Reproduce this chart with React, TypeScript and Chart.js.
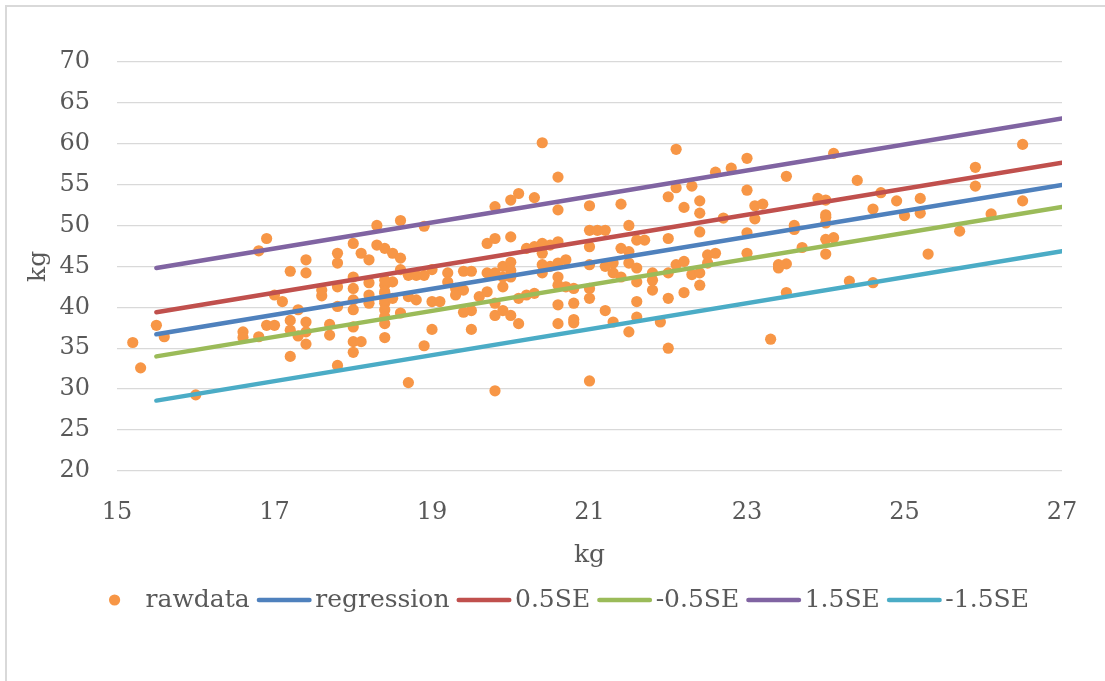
import { useEffect, useRef } from 'react';
import { Chart, registerables } from 'chart.js';

Chart.register(...registerables);

// Raw measurements (x in kg, y in kg)
const rawX = [
  15.2, 15.3, 15.5, 15.6, 16.0, 16.6, 16.6, 16.8, 16.9, 16.8, 17.0, 17.1, 16.9, 17.0, 17.2, 17.2, 17.2, 17.2,
  17.3, 17.3, 17.4, 17.4, 17.4, 17.4, 17.4, 17.6, 17.6, 17.7, 17.7, 17.8, 17.8, 17.8, 17.8, 17.8, 18.0, 18.0,
  18.0, 18.0, 18.0, 18.0, 18.0, 18.1, 18.0, 18.1, 18.2, 18.2, 18.2, 18.2, 18.3, 18.3, 18.4, 18.4, 18.4, 18.4,
  18.4, 18.4, 18.4, 18.5, 18.5, 18.6, 18.6, 18.6,
  18.6, 18.9, 18.4, 18.4, 18.4, 18.5, 18.4, 18.7, 18.8, 18.9, 19.0, 18.7, 18.8, 19.0, 19.1, 19.0, 18.7, 18.9,
  19.2, 19.2, 19.3, 19.3, 19.4, 19.4, 19.5, 19.5, 19.4, 19.5, 19.6, 19.7, 19.7, 19.8, 19.8, 19.7, 19.8, 19.8,
  19.9, 19.9, 20.0, 20.0, 20.0, 20.1, 19.9, 20.0, 20.0, 19.9, 20.0, 19.8, 20.1, 20.2, 20.3, 20.1, 19.8, 20.2,
  20.3, 20.4, 20.5, 20.6, 20.3, 20.4, 20.4, 20.4, 20.4, 20.5, 20.6, 20.7, 20.6, 20.6, 20.7, 20.6, 20.8, 20.6,
  20.8, 20.8, 20.6, 20.6, 20.8, 21.0, 21.0, 21.1, 21.2, 21.0, 21.0, 21.0, 21.0, 21.0, 21.2, 21.2, 21.3, 21.3,
  21.4, 21.3, 21.4, 21.4, 21.5, 21.5, 21.5, 21.5, 21.6, 21.7, 21.6, 21.6, 21.6, 21.6, 21.8, 21.8, 21.8, 22.0,
  22.0, 22.0, 22.0, 21.9, 22.0, 22.1, 22.1,
  22.3, 22.2, 22.4, 22.4, 22.4, 22.1, 22.2, 22.2, 22.3, 22.4, 22.4, 22.5, 22.5, 22.6, 22.6, 22.8, 23.0, 22.7,
  23.0, 23.0, 23.0, 23.1, 23.2, 23.1, 23.3, 23.4, 23.4, 23.5, 23.5, 23.5, 23.6, 23.6, 23.7, 23.9, 24.0, 24.0,
  24.0, 24.0, 24.0, 24.1, 24.0, 24.1, 24.3, 24.4, 24.6, 24.6, 24.7, 24.9, 25.0, 25.2, 25.2, 25.3, 25.7, 25.9,
  25.9, 26.1, 26.5, 26.5,
];
const rawY = [
  35.7, 32.6, 37.8, 36.4, 29.3, 37.0, 36.3, 46.9, 48.4, 36.4, 41.5, 40.7, 37.8, 37.8, 44.4, 34.0, 38.4, 37.2,
  39.7, 36.5, 45.8, 44.2, 38.2, 37.0, 35.5, 41.4, 42.1, 37.9, 36.6, 46.6, 45.4, 42.5, 40.1, 32.9, 47.8, 43.7,
  42.3, 40.9, 39.7, 37.6, 35.8, 35.8, 34.5, 46.6, 45.8, 43.0, 41.5, 40.5, 50.0, 47.6, 47.2, 42.7, 41.7, 40.5,
  39.7, 38.0, 36.3, 46.6, 43.1, 50.6, 44.6, 39.3,
  46.0, 49.9, 43.3, 41.9, 40.9, 41.1, 38.85, 43.9, 43.9, 43.9, 44.6, 41.3, 40.9, 40.7, 40.7, 37.3, 30.8, 35.3,
  44.2, 43.1, 42.3, 41.5, 44.4, 42.1, 44.4, 39.6, 39.4, 37.3, 41.3, 44.2, 47.8, 48.4, 52.3, 41.9, 40.5, 39.0,
  39.6, 42.5, 39.0, 48.6, 53.1, 53.9, 45.0, 45.5, 44.5, 43.7, 43.7, 44.2, 41.1, 41.5, 41.7, 38.0, 29.8, 47.2,
  47.4, 47.8, 47.6, 48.0, 53.4, 60.1, 46.6, 45.2, 44.2, 45.0, 45.4, 45.8, 43.7, 42.7, 42.5, 40.3, 40.5, 38.0,
  38.5, 38.1, 55.9, 51.9, 42.3, 52.4, 49.4, 49.4, 49.4, 47.4, 45.2, 42.3, 41.1, 31.0, 39.6, 45.0, 45.4, 44.2,
  43.7, 38.2, 52.6, 47.2, 46.8, 45.4, 50.0, 37.0, 48.2, 48.2, 44.8, 43.1, 40.7, 38.8, 44.2, 43.3, 42.1, 53.5,
  48.4, 44.2, 41.1, 38.2, 35.0, 59.3, 54.6,
  54.8, 52.2, 53.0, 51.5, 49.2, 45.2, 45.6, 41.8, 44.0, 44.2, 42.7, 46.4, 45.4, 46.6, 56.5, 57.0, 58.2, 50.9,
  54.3, 49.1, 46.6, 52.4, 52.6, 50.8, 36.1, 45.2, 44.8, 45.3, 41.8, 56.0, 50.0, 49.5, 47.3, 53.3, 53.1, 51.3,
  50.3, 48.3, 46.5, 48.5, 51.0, 58.8, 43.2, 55.5, 52.0, 43.0, 54.0, 53.0, 51.2, 53.3, 51.5, 46.5, 49.3, 57.1,
  54.8, 51.4, 59.9, 53.0,
];

// Fitted lines: start and end x, with the y at each end
const lineX = [15.5, 27];
const regressionY = [36.7, 54.95];
const plus05Y = [39.4, 57.65];
const minus05Y = [34.0, 52.25];
const plus15Y = [44.8, 63.05];
const minus15Y = [28.6, 46.85];

const xTicks = [15, 17, 19, 21, 23, 25, 27];
const yMin = 20;
const yMax = 70;
const yStep = 5;

const seriesNames = ['rawdata', 'regression', '0.5SE', '-0.5SE', '1.5SE', '-1.5SE'];
const seriesColors = ['#F79646', '#4F81BD', '#C0504D', '#9BBB59', '#8064A2', '#4BACC6'];

const TEXT = '#595959';
const FONT = '"DejaVu Serif", "Liberation Serif", serif';

const toPoints = (xs: number[], ys: number[]) => xs.map((x, i) => ({ x, y: ys[i] }));

// Frame around the chart (top and left edges)
const framePlugin = {
  id: 'frame',
  beforeDraw(chart: any) {
    const ctx = chart.ctx;
    ctx.save();
    ctx.fillStyle = '#ffffff';
    ctx.fillRect(0, 0, chart.width, chart.height);
    ctx.strokeStyle = '#d9d9d9';
    ctx.lineWidth = 2;
    ctx.strokeRect(6, 6, chart.width + 10, chart.height + 10);
    ctx.restore();
  },
};

// Legend row under the x axis title
const legendPlugin = {
  id: 'rowLegend',
  afterDraw(chart: any) {
    const ctx = chart.ctx;
    ctx.save();
    ctx.font = `25px ${FONT}`;
    ctx.textBaseline = 'middle';
    ctx.textAlign = 'left';
    const markW = 55;
    const gapIn = 3.5;
    const gapOut = 7;
    const y = 600;
    const widths = seriesNames.map((n) => ctx.measureText(n).width);
    let total = 0;
    widths.forEach((w, i) => {
      total += markW + gapIn + w + (i < widths.length - 1 ? gapOut : 0);
    });
    let x = 558 - total / 2;
    seriesNames.forEach((name, i) => {
      const color = seriesColors[i];
      if (i === 0) {
        ctx.fillStyle = color;
        ctx.beginPath();
        ctx.arc(x + markW / 2, y, 5.6, 0, Math.PI * 2);
        ctx.fill();
      } else {
        ctx.strokeStyle = color;
        ctx.lineWidth = 4.5;
        ctx.lineCap = 'round';
        ctx.beginPath();
        ctx.moveTo(x + 2.25, y);
        ctx.lineTo(x + markW - 2.25, y);
        ctx.stroke();
      }
      x += markW + gapIn;
      ctx.fillStyle = TEXT;
      ctx.fillText(name, x, y);
      x += widths[i] + gapOut;
    });
    ctx.restore();
  },
};

export default function App() {
  const canvasRef = useRef<HTMLCanvasElement | null>(null);

  useEffect(() => {
    if (!canvasRef.current) return;
    const lineSets = [regressionY, plus05Y, minus05Y, plus15Y, minus15Y].map((ys, i) => ({
      type: 'line' as const,
      label: seriesNames[i + 1],
      data: toPoints(lineX, ys),
      borderColor: seriesColors[i + 1],
      backgroundColor: seriesColors[i + 1],
      borderWidth: 4.5,
      borderCapStyle: 'round' as const,
      pointRadius: 0,
      showLine: true,
      fill: false,
      order: 1,
    }));

    const chart = new Chart(canvasRef.current, {
      type: 'scatter',
      data: {
        datasets: [
          {
            label: seriesNames[0],
            data: toPoints(rawX, rawY),
            backgroundColor: seriesColors[0],
            borderColor: seriesColors[0],
            borderWidth: 0,
            pointRadius: 5.6,
            order: 10,
          },
          ...lineSets,
        ] as any,
      },
      options: {
        animation: false,
        responsive: false,
        devicePixelRatio: 1,
        layout: { padding: { left: 23, top: 61.7, right: 43, bottom: 110 } },
        plugins: {
          legend: { display: false },
          tooltip: { enabled: false },
        },
        scales: {
          x: {
            type: 'linear',
            min: xTicks[0],
            max: xTicks[xTicks.length - 1],
            afterBuildTicks: (scale: any) => {
              scale.ticks = xTicks.map((v) => ({ value: v }));
            },
            afterFit: (scale: any) => {
              scale.height = 100;
            },
            grid: { display: false, drawTicks: false },
            border: { display: false },
            ticks: { color: TEXT, font: { family: FONT, size: 24 }, padding: 27, maxRotation: 0 },
            title: {
              display: true,
              text: 'kg',
              color: TEXT,
              font: { family: FONT, size: 25 },
              padding: { top: 0, bottom: 1 },
            },
          },
          y: {
            type: 'linear',
            min: yMin,
            max: yMax,
            afterFit: (scale: any) => {
              scale.width = 94;
            },
            grid: { color: '#d9d9d9', lineWidth: 1.3, drawTicks: false },
            border: { display: false },
            ticks: { stepSize: yStep, color: TEXT, font: { family: FONT, size: 24 }, padding: 27 },
            title: {
              display: true,
              text: 'kg',
              color: TEXT,
              font: { family: FONT, size: 25 },
              padding: { top: 0, bottom: 0 },
            },
          },
        },
      },
      plugins: [framePlugin, legendPlugin],
    });
    return () => chart.destroy();
  }, []);

  return (
    <div style={{ position: 'fixed', left: 0, top: 0, width: 1105, height: 681, background: '#fff' }}>
      <canvas ref={canvasRef} width={1105} height={681} style={{ width: 1105, height: 681, display: 'block' }} />
    </div>
  );
}
